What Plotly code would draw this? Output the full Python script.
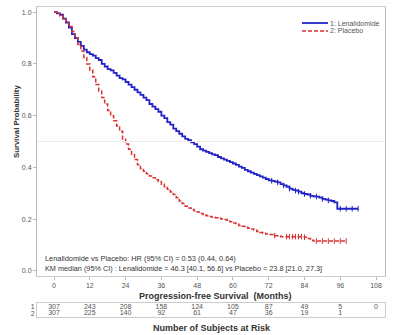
import plotly.graph_objects as go

# ---- data ----
blue_t = [0,1,2,3,4,5,6,7,8,9,10,11,12,13,14,15,16,17,18,19,20,21,22,23,24,25,26,27,28,29,30,
          31,32,33,34,35,36,37,38,39,40,41,42,43,44,45,46,47,48,49,50,51,52,53,54,55,56,57,58,59,60,
          61,62,63,64,65,66,67,68,69,70,71,72,73,74,75,76,77,78,79,80,81,82,83,84,85,86,87,88,89,90,
          91,92,93,94,95,102]
blue_s = [1.0,0.995,0.99,0.975,0.96,0.94,0.915,0.90,0.885,0.87,0.855,0.845,0.838,0.832,0.822,0.815,0.80,0.79,0.78,0.775,0.765,
          0.755,0.745,0.74,0.73,0.72,0.71,0.70,0.69,0.68,0.67,
          0.66,0.645,0.635,0.625,0.615,0.60,0.59,0.575,0.565,0.55,0.54,0.53,0.52,0.51,0.505,0.497,0.49,0.48,0.47,0.465,
          0.46,0.455,0.45,0.447,0.44,0.435,0.43,0.425,0.42,0.415,
          0.41,0.403,0.398,0.39,0.385,0.38,0.375,0.37,0.365,0.36,0.355,0.35,0.348,0.345,0.342,0.335,0.33,0.325,0.318,0.313,
          0.31,0.306,0.30,0.297,0.295,0.29,0.288,0.287,0.283,0.278,
          0.275,0.272,0.27,0.265,0.24,0.24]

red_t = [0,1,2,3,4,5,6,7,8,9,10,11,12,13,14,15,16,17,18,19,20,21,22,23,24,25,26,27,28,29,30,
         31,32,33,34,35,36,37,38,39,40,41,42,43,44,45,46,47,48,49,50,51,52,53,54,55,56,57,58,59,60,
         61,62,63,64,65,66,67,68,69,70,71,72,74,76,80,84,85,86,87,98]
red_s = [1.0,0.995,0.985,0.975,0.96,0.945,0.925,0.90,0.875,0.85,0.825,0.80,0.775,0.75,0.72,0.695,0.67,0.645,0.62,0.60,0.58,
         0.56,0.54,0.51,0.49,0.47,0.45,0.43,0.41,0.395,0.385,
         0.375,0.367,0.36,0.352,0.345,0.335,0.325,0.315,0.305,0.295,0.283,0.27,0.26,0.25,0.243,0.237,0.232,0.227,0.222,0.217,
         0.213,0.21,0.207,0.205,0.203,0.2,0.198,0.196,0.19,0.185,
         0.18,0.175,0.172,0.168,0.165,0.162,0.158,0.152,0.148,0.145,0.142,0.14,0.136,0.132,0.132,0.13,0.125,0.118,0.115,0.115]

blue_censor = [73,75,77,79,81,82,84,86,88,90,92,96,98,100,102]
red_censor = [74,78,79,80,81,82,83,84,88,90,92,94,96,98]

risk_times = [0,12,24,36,48,60,72,84,96,108]
risk_len = [307,243,208,158,124,105,87,49,5,0]
risk_pla = [307,225,140,92,61,47,36,19,1]

x_ticks = [0,12,24,36,48,60,72,84,96,108]
y_ticks = [0.0,0.2,0.4,0.6,0.8,1.0]

legend_names = ["1: Lenalidomide", "2: Placebo"]

BLUE = "#2323c8"
RED = "#d93030"
FONT = "Liberation Sans"
GRAY = "#555555"


def step_at(ts, ss, t):
    v = ss[0]
    for ti, si in zip(ts, ss):
        if ti <= t:
            v = si
    return v


fig = go.Figure()
fig.add_trace(go.Scatter(x=blue_t, y=blue_s, mode="lines", line=dict(color=BLUE, width=1.8, shape="hv"),
                         name=legend_names[0], xaxis="x", yaxis="y"))
fig.add_trace(go.Scatter(x=red_t, y=red_s, mode="lines", line=dict(color=RED, width=1.5, shape="hv", dash="4px,2px"),
                         name=legend_names[1], xaxis="x", yaxis="y"))
fig.add_trace(go.Scatter(x=blue_censor, y=[step_at(blue_t, blue_s, t) for t in blue_censor], mode="markers",
                         marker=dict(symbol="line-ns", size=4, line=dict(color=BLUE, width=1)),
                         showlegend=False, hoverinfo="skip"))
fig.add_trace(go.Scatter(x=red_censor, y=[step_at(red_t, red_s, t) for t in red_censor], mode="markers",
                         marker=dict(symbol="line-ns", size=4, line=dict(color=RED, width=1)),
                         showlegend=False, hoverinfo="skip"))

# risk table
fig.add_trace(go.Scatter(x=risk_times, y=[1] * len(risk_len), text=[str(v) for v in risk_len], mode="text",
                         textfont=dict(family=FONT, size=7, color=GRAY), xaxis="x2", yaxis="y2",
                         showlegend=False, hoverinfo="skip"))
fig.add_trace(go.Scatter(x=risk_times[:len(risk_pla)], y=[2] * len(risk_pla), text=[str(v) for v in risk_pla],
                         mode="text", textfont=dict(family=FONT, size=7, color=GRAY), xaxis="x2", yaxis="y2",
                         showlegend=False, hoverinfo="skip"))

fig.add_hline(y=0.5, line=dict(color="#ebebeb", width=1), xref="x", yref="y")

W = 400 - 37 - 15
H = 335 - 7 - 18
main_bottom = (317 - 276) / H
tab_top = (317 - 303) / H


def px(x):
    return (x - 37) / W


def py(y):
    return (317 - y) / H


fig.update_layout(
    width=400, height=335,
    margin=dict(l=37, r=15, t=7, b=18),
    paper_bgcolor="white", plot_bgcolor="white",
    font=dict(family=FONT, size=7, color=GRAY),
    xaxis=dict(domain=[0, 1], range=[-5.7, 111], tickvals=x_ticks, ticks="outside", ticklen=3,
               tickcolor="#bbbbbb", showgrid=False, zeroline=False, showline=True, linecolor="#cccccc",
               mirror=True, anchor="y", tickfont=dict(size=7, color=GRAY)),
    yaxis=dict(domain=[main_bottom, 1], range=[-0.02, 1.02], tickvals=y_ticks, tickformat=".1f",
               ticks="outside", ticklen=3, tickcolor="#bbbbbb", showgrid=False, zeroline=False,
               showline=True, linecolor="#bbbbbb", mirror=True, anchor="x", tickfont=dict(size=7, color=GRAY)),
    xaxis2=dict(domain=[0, 1], range=[-5.7, 111], matches="x", showticklabels=False, ticks="",
                showgrid=False, zeroline=False, showline=True, linecolor="#cccccc", mirror=True, anchor="y2"),
    yaxis2=dict(domain=[0, tab_top], range=[2.6, 0.4], tickvals=[1, 2], ticktext=["1", "2"], ticks="",
                showgrid=False, zeroline=False, showline=True, linecolor="#cccccc", mirror=True, anchor="x2",
                tickfont=dict(size=7, color=GRAY)),
    showlegend=False,
)

# manual legend (compact, like the original)
fig.add_shape(type="line", xref="paper", yref="paper", x0=px(302), x1=px(328), y0=py(23), y1=py(23),
              line=dict(color=BLUE, width=1.8))
fig.add_shape(type="line", xref="paper", yref="paper", x0=px(302), x1=px(328), y0=py(31), y1=py(31),
              line=dict(color=RED, width=1.5, dash="4px,2px"))
for name, yy in zip(legend_names, [23, 31]):
    fig.add_annotation(text=name, xref="paper", yref="paper", x=px(329), y=py(yy), xanchor="left",
                       yanchor="middle", showarrow=False, borderpad=0,
                       font=dict(family=FONT, size=7, color=GRAY))

fig.add_annotation(text="Lenalidomide vs Placebo: HR (95% CI) = 0.53 (0.44, 0.64)", xref="paper", yref="paper",
                   x=px(43), y=py(258), xanchor="left", yanchor="middle", showarrow=False,
                   font=dict(family=FONT, size=7.4, color="#333333"))
fig.add_annotation(text="KM median (95% CI) : Lenalidomide = 46.3 [40.1, 56.6] vs Placebo = 23.8 [21.0, 27.3]",
                   xref="paper", yref="paper", x=px(43), y=py(268), xanchor="left", yanchor="middle",
                   showarrow=False, font=dict(family=FONT, size=7.3, color="#333333"))
fig.add_annotation(text="<b>Progression-free Survival  (Months)</b>", xref="paper", yref="paper",
                   x=px(215), y=py(296), xanchor="center", yanchor="middle", showarrow=False,
                   font=dict(family=FONT, size=9, color="#333333"))
fig.add_annotation(text="<b>Number of Subjects at Risk</b>", xref="paper", yref="paper",
                   x=px(212), y=py(328), xanchor="center", yanchor="middle", showarrow=False,
                   font=dict(family=FONT, size=9, color="#333333"))
fig.add_annotation(text="<b>Survival Probability</b>", xref="paper", yref="paper", textangle=-90,
                   x=px(16), y=py(122), xanchor="center", yanchor="middle", showarrow=False,
                   font=dict(family=FONT, size=7.8, color="#333333"))

fig.write_html("out.html")
